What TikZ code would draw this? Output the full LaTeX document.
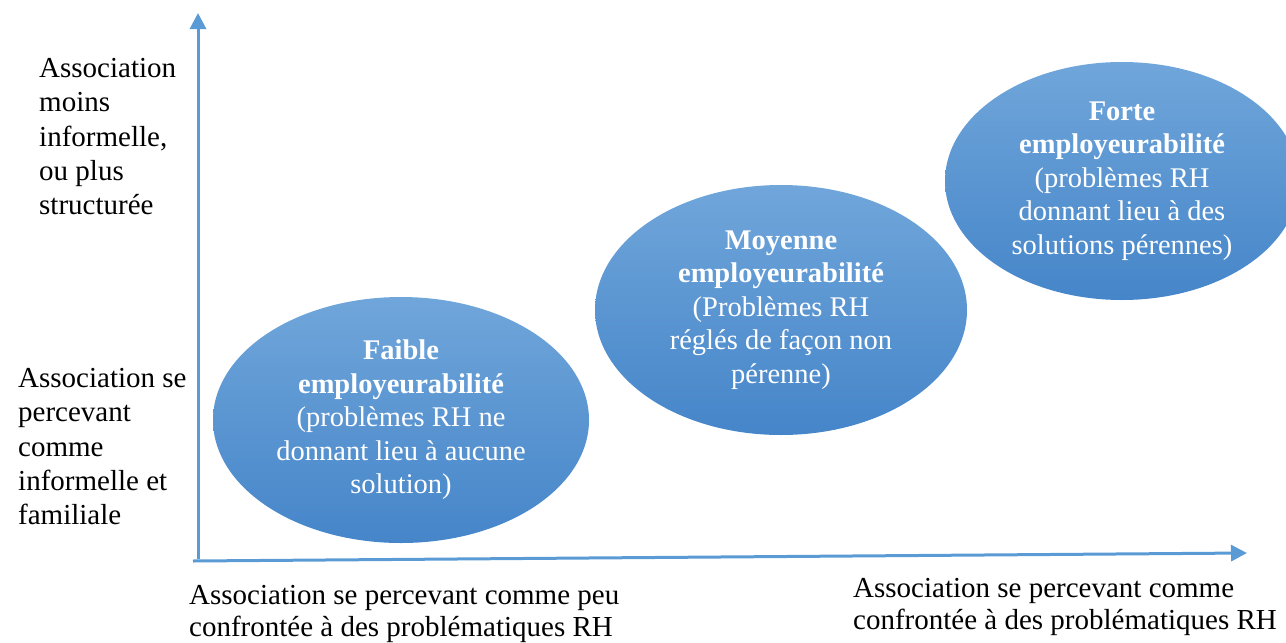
\documentclass[tikz,border=0pt]{standalone}
\usepackage{fontspec}
\setmainfont{Liberation Serif}
\usetikzlibrary{arrows.meta,shapes.geometric}
\definecolor{axisblue}{HTML}{5B9BD5}
\definecolor{elltop}{HTML}{70A6DA}
\definecolor{ellbot}{HTML}{4585C9}
\tikzset{
  axisline/.style={draw=axisblue,line width=3pt,-{Triangle[length=16pt,width=16pt]}},
  blob/.style={ellipse,inner sep=0pt,top color=elltop,bottom color=ellbot,draw=none,
    text=white,align=center,font=\fontsize{28.5}{33.5}\selectfont},
  sidelabel/.style={anchor=north west,inner sep=0pt,align=left,font=\fontsize{29}{34.3}\selectfont},
  bottomlabel/.style={anchor=north west,inner sep=0pt,align=left,font=\fontsize{29}{32}\selectfont}
}
\begin{document}
\begin{tikzpicture}[x=1pt,y=-1pt]
\useasboundingbox (0,0) rectangle (1286,643);
% axes
\coordinate (origin) at (198,559);
\coordinate (ytop) at (198,13);
\coordinate (xstart) at (193,561);
\coordinate (xend) at (1247,553);
\draw[axisline] (origin) -- (ytop);
\draw[axisline] (xstart) -- (xend);
% ellipses
\node[blob,minimum width=376pt,minimum height=246pt] (faible) at (401,420)
  {\textbf{Faible}\\\textbf{employeurabilité}\\(problèmes RH ne\\donnant lieu à aucune\\solution)};
\node[blob,minimum width=372pt,minimum height=250pt] (moyenne) at (781,310)
  {\textbf{Moyenne}\\\textbf{employeurabilité}\\(Problèmes RH\\réglés de façon non\\pérenne)};
\node[blob,minimum width=354pt,minimum height=238pt] (forte) at (1122,181)
  {\textbf{Forte}\\\textbf{employeurabilité}\\(problèmes RH\\donnant lieu à des\\solutions pérennes)};
% axis labels
\node[sidelabel] (ytoplabel) at (39,58)
  {Association\\moins\\informelle,\\ou plus\\structurée};
\node[sidelabel] (ybotlabel) at (18,368)
  {Association se\\percevant\\comme\\informelle et\\familiale};
\node[bottomlabel] (xleftlabel) at (189,585)
  {Association se percevant comme peu\\confrontée à des problématiques RH};
\node[bottomlabel] (xrightlabel) at (853,578)
  {Association se percevant comme\\confrontée à des problématiques RH};
\end{tikzpicture}
\end{document}
